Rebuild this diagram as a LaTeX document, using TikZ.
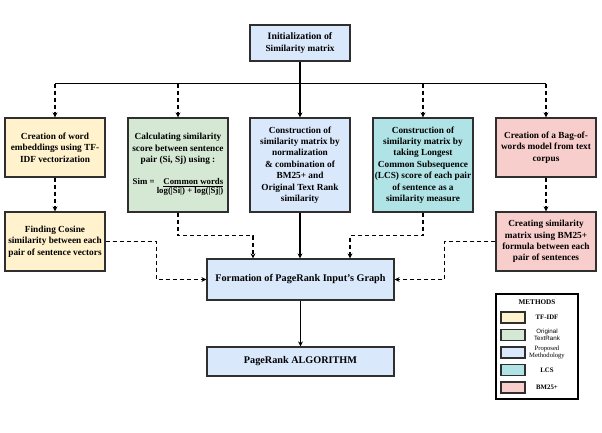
\documentclass[tikz,border=0pt]{standalone}
\usepackage{fontspec}
\setmainfont{Liberation Serif}
\newfontfamily\legendsans{Liberation Sans}
\usetikzlibrary{arrows.meta,calc}
\definecolor{boxline}{HTML}{2F2F2F}
\definecolor{tfidfyellow}{HTML}{FFF2CC}
\definecolor{textrankgreen}{HTML}{D5E8D4}
\definecolor{proposedblue}{HTML}{DAE8FC}
\definecolor{lcscyan}{HTML}{B0E3E6}
\definecolor{bmpink}{HTML}{F8CECC}

\begin{document}
\begin{tikzpicture}[x=1pt,y=-1pt,
    box/.style={draw=boxline, line width=1.2pt, align=center, inner xsep=1pt, inner ysep=0pt,
      font=\fontsize{9.3}{11.4}\selectfont\bfseries},
    smallbox/.style={box, minimum width=100pt, minimum height=59pt},
    tallbox/.style={box, minimum width=100pt, minimum height=94pt},
    widebox/.style={box, minimum width=187pt, font=\fontsize{10.2}{12}\selectfont\bfseries},
    swatch/.style={draw=boxline, line width=1.2pt, minimum width=24pt, minimum height=11pt, inner sep=0pt},
    legtext/.style={align=center, inner sep=0pt, font=\fontsize{6.8}{7.4}\selectfont},
    solidarrow/.style={line width=1.1pt, -{Stealth[length=5pt,width=5pt]}},
    dasharrow/.style={line width=1.1pt, dash pattern=on 4pt off 3pt, -{Stealth[length=5pt,width=5pt]}}]
    \useasboundingbox (0,0) rectangle (602,432);
    % Draw boxes
    \node[box, fill=proposedblue, minimum width=100pt, minimum height=36pt] (init) at (300,43)
      {\fontsize{9.8}{12.5}\selectfont Initialization of\\Similarity matrix};
    \node[smallbox, fill=tfidfyellow] (tfidf) at (55,147.5)
      {Creation of word\\embeddings using TF-\\IDF vectorization};
    \node[tallbox, fill=textrankgreen] (calc) at (178,165)
      {Calculating similarity\\score between sentence\\pair (Si, Sj) using :\\[11.4pt]
       {\fontsize{8.8}{10.5}\selectfont
       \begin{tabular}{@{}l@{\ }r@{}}
         Sim = & \underline{Common words}\\[-1.5pt]
               & log(|Si|) + log(|Sj|)
       \end{tabular}}};
    \node[tallbox, fill=proposedblue] (norm) at (300,165)
      {Construction of\\similarity matrix by\\normalization\\\& combination of\\BM25+ and\\Original Text Rank\\similarity};
    \node[tallbox, fill=lcscyan] (lcs) at (423,165)
      {Construction of\\similarity matrix by\\taking Longest\\Common Subsequence\\(LCS) score of each pair\\of sentence as a\\similarity measure};
    \node[smallbox, fill=bmpink] (bow) at (546,147.5)
      {Creation of a Bag-of-\\words model from text\\corpus};
    \node[smallbox, fill=tfidfyellow] (cosine) at (55,241.5)
      {Finding Cosine\\similarity between each\\pair of sentence vectors};
    \node[smallbox, fill=bmpink] (bmsim) at (546,241.5)
      {Creating similarity\\matrix using BM25+\\formula between each\\pair of sentences};
    \node[widebox, fill=proposedblue, minimum height=41pt] (graph) at (300.5,279.5)
      {Formation of PageRank Input's Graph};
    \node[widebox, fill=proposedblue, minimum height=29pt] (pagerank) at (300.5,361.5)
      {PageRank ALGORITHM};
    % Connectors from the top
    \coordinate (bus) at (300,83.5);
    \draw[line width=1.1pt] (tfidf.north |- bus) -- (bow.north |- bus);
    \draw[solidarrow] (init.south) -- (norm.north);
    \draw[dasharrow] (tfidf.north |- bus) -- (tfidf.north);
    \draw[dasharrow] (calc.north |- bus) -- (calc.north);
    \draw[dasharrow] (lcs.north |- bus) -- (lcs.north);
    \draw[dasharrow] (bow.north |- bus) -- (bow.north);
    \draw[dasharrow] (tfidf.south) -- (cosine.north);
    \draw[dasharrow] (bow.south) -- (bmsim.north);
    % Connectors into the graph
    \draw[dasharrow] (cosine.east) -- ++(51,0) |- (graph.west);
    \draw[dasharrow] (bmsim.west) -- ++(-51,0) |- (graph.east);
    \draw[dasharrow] (calc.south) -- ++(0,23) -| ($(graph.north)+(-47.5,0)$);
    \draw[dasharrow] (lcs.south) -- ++(0,23) -| ($(graph.north)+(49.5,0)$);
    \draw[solidarrow] (norm.south) -- (norm.south |- graph.north);
    \draw[solidarrow] (graph.south) -- (pagerank.north);
    % Legend
    \node[draw=black, line width=1.2pt, minimum width=82pt, minimum height=105pt, inner sep=0pt] (legend) at (537,346.5) {};
    \node[legtext, font=\fontsize{7.2}{8}\selectfont\bfseries] (legtitle) at (537,302) {METHODS};
    \node[swatch, fill=tfidfyellow] (swA) at (513,317.5) {};
    \node[swatch, fill=textrankgreen] (swB) at (513,335) {};
    \node[swatch, fill=proposedblue] (swC) at (513,352.5) {};
    \node[swatch, fill=lcscyan] (swD) at (513,370) {};
    \node[swatch, fill=bmpink] (swE) at (513,387.5) {};
    \node[legtext, font=\fontsize{6.8}{7.4}\selectfont\bfseries] (labA) at (547,317.5) {TF-IDF};
    \node[legtext, font=\fontsize{6.2}{7}\legendsans] (labB) at (547,335) {Original\\TextRank};
    \node[legtext, font=\fontsize{6.6}{7.4}\selectfont] (labC) at (547,352.5) {Proposed\\Methodology};
    \node[legtext, font=\fontsize{6.8}{7.4}\selectfont\bfseries] (labD) at (547,370) {LCS};
    \node[legtext, font=\fontsize{6.8}{7.4}\selectfont\bfseries] (labE) at (547,387.5) {BM25+};
\end{tikzpicture}
\end{document}
